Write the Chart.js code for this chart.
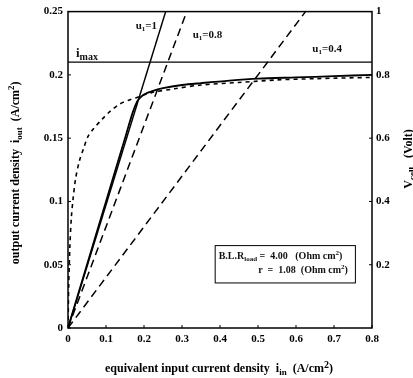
<!DOCTYPE html>
<html>
<head>
<meta charset="utf-8">
<script src="https://cdn.jsdelivr.net/npm/chart.js@4.4.1/dist/chart.umd.min.js"></script>
<style>
  html, body { margin: 0; padding: 0; background: #fff; }
  #wrap { width: 413px; height: 378px; }
</style>
</head>
<body>
<div id="wrap"><canvas id="c" width="413" height="378"></canvas></div>
<script>
// Operating lines for the utilisation factor u1 (i_in, i_out)
const u1Labels = ['1', '0.8', '0.4'];
const lineU1_1   = [[0, 0], [0.257, 0.25]];
const lineU1_08  = [[0, 0], [0.3125, 0.25]];
const lineU1_04  = [[0, 0], [0.625, 0.25]];

// Maximum output current density
const iMax = 0.21;

// Output current density, solid curve
const solidIn  = [0, 0.05, 0.10, 0.15, 0.17, 0.182, 0.19, 0.20, 0.22, 0.25, 0.30, 0.35, 0.425, 0.50, 0.60, 0.70, 0.80];
const solidOut = [0, 0.05, 0.10, 0.15, 0.17, 0.179, 0.182, 0.1845, 0.187, 0.1895, 0.192, 0.1935, 0.1955, 0.197, 0.198, 0.199, 0.2];

// Short-dashed curve
const dashIn  = [0, 0.002, 0.005, 0.009, 0.013, 0.02, 0.03, 0.04, 0.052, 0.066, 0.09, 0.11, 0.136, 0.16, 0.18, 0.22, 0.28, 0.35, 0.45, 0.55, 0.65, 0.80];
const dashOut = [0, 0.035, 0.065, 0.088, 0.101, 0.118, 0.132, 0.141, 0.151, 0.157, 0.165, 0.171, 0.177, 0.180, 0.182, 0.186, 0.189, 0.192, 0.194, 0.196, 0.197, 0.198];

// Axis ticks
const xTicks  = [0, 0.1, 0.2, 0.3, 0.4, 0.5, 0.6, 0.7, 0.8];
const yTicks  = [0, 0.05, 0.1, 0.15, 0.2, 0.25];
const y1Ticks = [0.2, 0.4, 0.6, 0.8, 1];

const SERIF = '"Liberation Serif", "DejaVu Serif", serif';
const pts = (xs, ys) => xs.map((x, i) => ({ x: x, y: ys[i] }));
const pairs = arr => arr.map(p => ({ x: p[0], y: p[1] }));

function font(size) { return 'bold ' + size + 'px ' + SERIF; }

// Draw a run of text pieces, each with its own size and vertical shift
function richWidth(ctx, parts) {
  let w = 0;
  parts.forEach(p => { ctx.font = font(p.s); w += ctx.measureText(p.t).width; });
  return w;
}
function drawRich(ctx, parts, x, y, align) {
  const w = richWidth(ctx, parts);
  let cx = align === 'center' ? x - w / 2 : align === 'right' ? x - w : x;
  ctx.textBaseline = 'alphabetic';
  ctx.textAlign = 'left';
  parts.forEach(p => {
    ctx.font = font(p.s);
    ctx.fillText(p.t, cx, y + (p.dy || 0));
    cx += ctx.measureText(p.t).width;
  });
}

const decorations = {
  id: 'decorations',
  afterDraw(chart) {
    const ctx = chart.ctx;
    const a = chart.chartArea;
    const xs = chart.scales.x, ys = chart.scales.y, y1 = chart.scales.y1;
    ctx.save();
    ctx.strokeStyle = '#000';
    ctx.fillStyle = '#000';

    // frame
    ctx.lineWidth = 1.5;
    ctx.strokeRect(a.left, a.top, a.right - a.left, a.bottom - a.top);

    // inward tick marks
    ctx.lineWidth = 1;
    ctx.beginPath();
    xTicks.forEach(v => { const px = xs.getPixelForValue(v); ctx.moveTo(px, a.bottom); ctx.lineTo(px, a.bottom - 3); });
    yTicks.forEach(v => { const py = ys.getPixelForValue(v); ctx.moveTo(a.left, py); ctx.lineTo(a.left + 3, py); });
    y1Ticks.forEach(v => { const py = y1.getPixelForValue(v); ctx.moveTo(a.right, py); ctx.lineTo(a.right - 3, py); });
    ctx.stroke();

    // curve labels
    ctx.fillStyle = '#111';
    const lab = (parts, vx, vy) => drawRich(ctx, parts, xs.getPixelForValue(vx), ys.getPixelForValue(vy), 'left');
    lab([{ t: 'u', s: 11 }, { t: '1', s: 7, dy: 2 }, { t: '=' + u1Labels[0], s: 11 }], 0.178, 0.236);
    lab([{ t: 'u', s: 11 }, { t: '1', s: 7, dy: 2 }, { t: '=' + u1Labels[1], s: 11 }], 0.328, 0.229);
    lab([{ t: 'u', s: 11 }, { t: '1', s: 7, dy: 2 }, { t: '=' + u1Labels[2], s: 11 }], 0.643, 0.218);
    lab([{ t: 'i', s: 13 }, { t: 'max', s: 10, dy: 3 }], 0.021, 0.2145);

    // parameter box
    const bx0 = xs.getPixelForValue(0.386), bx1 = xs.getPixelForValue(0.755);
    const by0 = ys.getPixelForValue(0.0655), by1 = ys.getPixelForValue(0.036);
    ctx.fillStyle = '#fff';
    ctx.fillRect(bx0, by0, bx1 - bx0, by1 - by0);
    ctx.lineWidth = 1;
    ctx.strokeRect(bx0 + 0.5, by0 + 0.5, bx1 - bx0, by1 - by0);
    ctx.fillStyle = '#111';
    drawRich(ctx, [{ t: 'B.L.R', s: 10 }, { t: 'load', s: 7, dy: 2 }, { t: ' =  4.00   (Ohm cm', s: 10 }, { t: '2', s: 7, dy: -4 }, { t: ')', s: 10 }],
      bx0 + 4, by0 + 14, 'left');
    drawRich(ctx, [{ t: 'r  =  1.08  (Ohm cm', s: 10 }, { t: '2', s: 7, dy: -4 }, { t: ')', s: 10 }],
      bx1 - 7, by0 + 28, 'right');

    // axis titles
    ctx.fillStyle = '#000';
    drawRich(ctx, [{ t: 'equivalent input current density  i', s: 12 }, { t: 'in', s: 9, dy: 3 }, { t: '  (A/cm', s: 12 }, { t: '2', s: 10, dy: -4 }, { t: ')', s: 12 }],
      (a.left + a.right) / 2 - 1, 372, 'center');

    ctx.save();
    ctx.translate(19, (a.top + a.bottom) / 2 + 3);
    ctx.rotate(-Math.PI / 2);
    drawRich(ctx, [{ t: 'output current density  i', s: 12 }, { t: 'out', s: 9, dy: 3 }, { t: '  (A/cm', s: 12 }, { t: '2', s: 9, dy: -5 }, { t: ')', s: 12 }], 0, 0, 'center');
    ctx.restore();

    ctx.save();
    ctx.translate(412, 159);
    ctx.rotate(-Math.PI / 2);
    drawRich(ctx, [{ t: 'V', s: 12 }, { t: 'cell', s: 9, dy: 3 }, { t: '   (Volt)', s: 12 }], 0, 0, 'center');
    ctx.restore();

    ctx.restore();
  }
};

const tickFont = { family: SERIF, size: 11, weight: 'bold' };

new Chart(document.getElementById('c'), {
  type: 'scatter',
  data: {
    datasets: [
      { data: pairs(lineU1_1), showLine: true, borderColor: '#000', borderWidth: 1.5, pointRadius: 0 },
      { data: pairs(lineU1_08), showLine: true, borderColor: '#000', borderWidth: 1.5, borderDash: [8, 5], pointRadius: 0 },
      { data: pairs(lineU1_04), showLine: true, borderColor: '#000', borderWidth: 1.5, borderDash: [8, 5], pointRadius: 0 },
      { data: [{ x: 0, y: iMax }, { x: 0.8, y: iMax }], showLine: true, borderColor: '#000', borderWidth: 1.2, pointRadius: 0 },
      { data: pts(solidIn, solidOut), showLine: true, borderColor: '#000', borderWidth: 1.8, pointRadius: 0, tension: 0.3 },
      { data: pts(dashIn, dashOut), showLine: true, borderColor: '#000', borderWidth: 1.6, borderDash: [4, 4], pointRadius: 0, tension: 0.3 }
    ]
  },
  options: {
    responsive: false,
    animation: false,
    events: [],
    layout: { padding: { top: 11, left: 0, right: 0, bottom: 0 } },
    plugins: { legend: { display: false }, tooltip: { enabled: false } },
    scales: {
      x: {
        type: 'linear', min: 0, max: 0.8,
        afterBuildTicks: s => { s.ticks = xTicks.map(v => ({ value: v })); },
        afterFit: s => { s.height = 50; },
        grid: { display: false, drawTicks: false },
        border: { display: false },
        ticks: { font: tickFont, color: '#000', padding: 5, maxRotation: 0, callback: v => String(v) }
      },
      y: {
        type: 'linear', position: 'left', min: 0, max: 0.25,
        afterBuildTicks: s => { s.ticks = yTicks.map(v => ({ value: v })); },
        afterFit: s => { s.width = 68; },
        grid: { display: false, drawTicks: false },
        border: { display: false },
        ticks: { font: tickFont, color: '#000', padding: 5, callback: v => String(v) }
      },
      y1: {
        type: 'linear', position: 'right', min: 0, max: 1,
        afterBuildTicks: s => { s.ticks = y1Ticks.map(v => ({ value: v })); },
        afterFit: s => { s.width = 41; },
        grid: { display: false, drawTicks: false },
        border: { display: false },
        ticks: { font: tickFont, color: '#000', padding: 4, callback: v => String(v) }
      }
    }
  },
  plugins: [decorations]
});
</script>
</body>
</html>
